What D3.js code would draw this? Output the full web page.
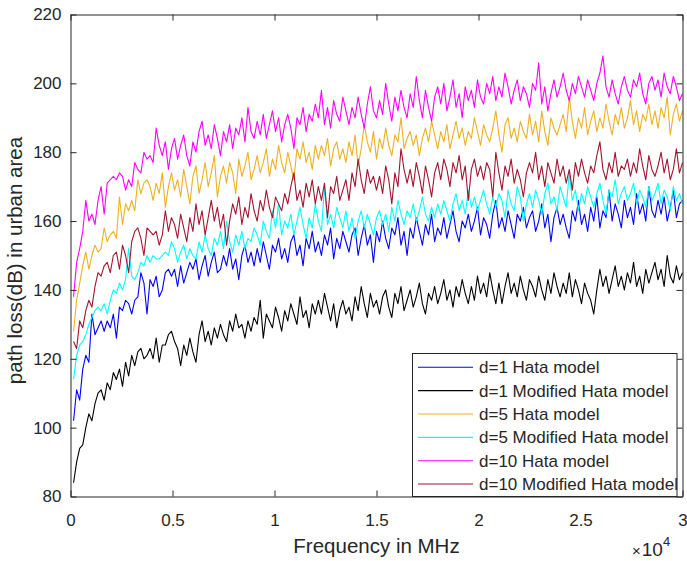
<!DOCTYPE html>
<html>
<head>
<meta charset="utf-8">
<script src="https://cdn.jsdelivr.net/npm/d3@7"></script>
<style>
  body { margin: 0; background: #fff; }
  text { font-family: "Liberation Sans", Arial, Helvetica, sans-serif; fill: #262626; }
</style>
</head>
<body>
<div id="chart"></div>
<script type="text/javascript">
// frequency grid: one sample every 150 MHz, from 150 to 30000
var freqStep = 150;

var blue = [102,111,108,117,121,119,133,127,129,131, 128,131,129,133,126,135,134,137,136,133,
  137,138,145,142,133,143,141,144,138,140, 145,146,144,146,141,147,142,145,148,146,
  149,143,147,150,144,148,151,145,146,150, 147,152,146,149,143,150,153,148,151,147,
  152,148,154,150,146,153,151,155,149,152, 148,154,156,150,153,147,155,152,157,151,
  154,150,156,153,158,149,155,152,157,154, 151,156,158,150,155,159,153,156,148,157,
  154,160,155,152,158,156,161,153,157,150, 158,155,161,157,153,159,156,162,154,158,
  156,161,155,159,163,157,154,160,158,162, 157,160,164,156,161,159,155,162,166,158,
  161,157,163,159,155,162,160,164,158,161, 163,157,160,165,158,162,154,161,164,159,
  162,158,155,163,160,166,159,162,157,164, 160,167,158,163,161,169,160,165,162,158,
  166,161,164,159,168,162,165,160,170,163, 161,166,162,167,160,164,169,161,165,166];

var black = [84,90,94,95,100,104,102,107,110,111, 108,113,111,116,114,117,112,119,115,121,
  118,122,123,120,121,123,120,126,119,124, 124,127,128,125,123,118,124,121,126,122,
  119,127,131,125,128,124,129,126,130,127, 125,131,128,133,129,130,126,131,128,132,
  130,137,126,133,131,129,135,132,128,134, 131,136,133,130,138,132,134,129,136,133,
  137,133,139,135,131,136,129,134,137,133, 135,131,138,134,141,136,132,139,135,137,
  133,138,140,135,132,139,136,141,134,137, 140,135,138,142,136,133,139,137,141,136,
  139,143,137,140,135,141,138,143,139,136, 141,137,144,139,142,138,145,140,136,142,
  136,141,145,139,142,138,144,140,137,143, 141,138,144,140,137,143,139,145,141,138,
  142,139,145,138,143,140,136,142,139,137, 133,140,146,141,144,139,143,147,141,144,
  140,145,142,148,141,144,139,146,142,145, 148,143,146,141,150,144,142,147,143,145];

var orange = [128,137,142,147,151,146,150,153,151,152, 158,154,156,157,155,167,159,165,163,166,
  163,172,168,171,172,170,166,171,168,174, 164,170,174,169,172,167,175,170,165,173,
  176,168,172,177,170,174,179,167,173,176, 171,177,174,168,178,173,176,180,172,175,
  179,174,177,181,173,178,175,182,177,174, 180,176,172,181,178,183,177,180,175,182,
  178,182,179,184,176,181,183,178,181,177, 183,179,185,176,181,188,183,180,186,178,
  184,181,187,182,179,185,183,190,181,184, 186,182,185,179,184,187,183,189,185,181,
  186,183,188,181,185,189,184,187,182,186, 184,190,186,182,188,185,183,187,192,185,
  180,188,190,184,187,183,189,186,184,191, 185,189,183,192,186,182,190,187,185,188,
  191,186,196,189,184,190,187,193,185,189, 192,186,190,187,194,189,185,191,188,193,
  187,190,195,188,192,186,191,189,194,188, 192,187,193,190,196,185,191,194,189,192];

var cyan = [114,121,124,125,127,130,132,134,135,134, 136,133,137,140,139,142,140,143,152,144,
  143,145,148,147,150,148,150,149,149,150, 151,150,154,152,148,151,153,149,152,150,
  149,154,151,156,152,150,155,153,157,152, 160,154,151,156,153,157,152,155,154,158,
  156,153,160,157,155,163,158,165,156,160, 158,162,156,160,164,159,155,161,158,165,
  160,157,170,159,162,158,164,161,158,163, 157,161,155,160,163,158,162,159,156,161,
  163,159,162,157,164,160,166,162,159,163, 161,165,160,163,167,162,160,164,161,165,
  162,166,163,160,165,168,163,166,162,169, 164,167,163,166,169,165,162,167,164,168,
  166,161,169,165,163,170,167,160,165,168, 164,169,166,162,168,171,165,167,163,170,
  167,164,174,166,169,163,168,165,170,167, 164,168,171,166,162,169,167,172,165,168,
  170,166,168,171,165,169,167,164,170,166, 168,171,165,169,167,163,170,166,168,165];

var magenta = [138,148,152,157,166,160,162,159,166,170, 162,171,172,173,172,174,173,169,172,170,
  177,175,174,180,178,179,177,187,182,179, 183,175,181,184,178,182,185,179,176,183,
  180,186,189,182,185,181,188,184,179,186, 183,188,181,187,185,190,183,193,186,184,
  189,185,191,184,188,192,186,190,183,188, 191,187,181,190,188,193,186,191,189,194,
  190,198,188,193,187,195,191,189,196,192, 188,193,190,196,191,187,194,199,192,190,
  195,191,200,194,189,196,192,198,193,190, 197,193,202,195,190,198,193,189,196,199,
  194,200,192,196,201,193,197,190,199,195, 198,193,201,196,194,200,197,202,195,199,
  196,203,199,194,198,201,195,199,197,193, 200,198,206,194,199,192,197,201,196,199,
  203,198,195,200,197,202,199,196,201,198, 195,200,203,208,199,196,201,197,194,199,
  202,198,196,201,199,203,197,194,200,202, 198,201,196,203,199,197,202,199,195,197];

var darkred = [125,123,131,129,134,137,135,141,145,144, 147,148,145,150,151,146,153,150,145,154,
  157,158,155,150,158,157,156,157,153,156, 163,157,161,159,155,162,158,154,161,157,
  165,159,163,156,161,166,160,164,158,162, 153,160,165,162,167,159,164,161,168,163,
  160,166,163,169,164,161,167,165,163,168, 165,170,174,166,169,164,171,167,172,165,
  170,166,171,161,170,168,173,166,169,172, 166,174,170,178,172,168,175,171,173,169,
  173,168,176,172,165,174,170,181,175,171, 175,170,177,173,168,176,172,167,174,177,
  172,178,175,170,177,174,179,172,176,166, 175,178,173,176,172,177,175,167,180,174,
  169,176,173,178,171,175,172,167,174,177, 174,180,172,176,170,177,174,171,178,173,
  176,171,175,169,177,173,178,174,171,176, 174,179,183,175,172,177,174,180,173,176,
  175,178,173,177,174,181,176,172,179,175, 173,176,180,174,178,172,175,181,174,177];

var labels = ["d=1 Hata model", "d=1 Modified Hata model", "d=5 Hata model",
              "d=5 Modified Hata model", "d=10 Hata model", "d=10 Modified Hata model"];
var colors = ["#0000ff", "#000000", "#edb120", "#00ffff", "#ff00ff", "#a2142f"];
var xTicks = [0, 5000, 10000, 15000, 20000, 25000, 30000];
var yTicks = [80, 100, 120, 140, 160, 180, 200, 220];

var series = [blue, black, orange, cyan, magenta, darkred].map(function(v, k){
  return { values: v, label: labels[k], color: colors[k] };
});

var W = 687, H = 561;
var plotL = 70.5, plotR = 682.5, plotT = 14.5, plotB = 496.5;
var axisColor = "#262626";

var svg = d3.select("#chart").append("svg").attr("width", W).attr("height", H);
svg.append("rect").attr("width", W).attr("height", H).attr("fill", "#fff");

var x = d3.scaleLinear().domain([0, 30000]).range([plotL, plotR]);
var y = d3.scaleLinear().domain([80, 220]).range([plotB, plotT]);

var line = d3.line()
  .x(function(d, i){ return x((i + 1) * freqStep); })
  .y(function(d){ return y(d); });

svg.append("g").selectAll("path")
  .data(series)
  .enter()
  .append("path")
  .attr("d", function(s){ return line(s.values); })
  .attr("fill", "none")
  .attr("stroke", function(s){ return s.color; })
  .attr("stroke-width", 1.1)
  .attr("stroke-linejoin", "round");

// axes box, ticks pointing inward
var fmtX = function(d){ return d / 10000; };
var gB = svg.append("g").attr("transform", "translate(0," + plotB + ")")
  .call(d3.axisBottom(x).tickValues(xTicks).tickFormat(fmtX).tickSizeInner(-6).tickSizeOuter(0).tickPadding(17));
var gT = svg.append("g").attr("transform", "translate(0," + plotT + ")")
  .call(d3.axisTop(x).tickValues(xTicks).tickFormat("").tickSizeInner(-6).tickSizeOuter(0));
var gL = svg.append("g").attr("transform", "translate(" + plotL + ",0)")
  .call(d3.axisLeft(y).tickValues(yTicks).tickSizeInner(-6).tickSizeOuter(0).tickPadding(9));
var gR = svg.append("g").attr("transform", "translate(" + plotR + ",0)")
  .call(d3.axisRight(y).tickValues(yTicks).tickFormat("").tickSizeInner(-6).tickSizeOuter(0));

[gB, gT, gL, gR].forEach(function(g){
  g.select(".domain").attr("stroke", axisColor);
  g.selectAll(".tick line").attr("stroke", axisColor);
  g.selectAll(".tick text").attr("fill", axisColor)
    .style("font-family", '"Liberation Sans", Arial, sans-serif').style("font-size", "17px");
});

// axis labels
svg.append("text")
  .attr("x", (plotL + plotR) / 2)
  .attr("y", 553)
  .attr("text-anchor", "middle")
  .style("font-size", "20.5px")
  .text("Frequency in MHz");

svg.append("text")
  .attr("transform", "translate(22," + ((plotT + plotB) / 2 + 5) + ") rotate(-90)")
  .attr("text-anchor", "middle")
  .style("font-size", "20.5px")
  .text("path loss(dB) in urban area");

var expo = svg.append("text").attr("x", 632).attr("y", 556);
expo.append("tspan").style("font-size", "15px").text("\u00d7");
expo.append("tspan").attr("dx", 1).style("font-size", "19px").text("10");
expo.append("tspan").attr("dy", -10).style("font-size", "13px").text("4");

// legend
var lg = svg.append("g");
lg.append("rect")
  .attr("x", 412.5).attr("y", 353.5)
  .attr("width", 264.5).attr("height", 143)
  .attr("fill", "#fff")
  .attr("stroke", axisColor)
  .attr("stroke-width", 1);

var rows = lg.selectAll(".row")
  .data(series)
  .enter()
  .append("g")
  .attr("transform", function(d, k){ return "translate(0," + (367.3 + k * 23.35) + ")"; });

rows.append("line")
  .attr("x1", 418).attr("x2", 473)
  .attr("stroke", function(d){ return d.color; })
  .attr("stroke-width", 1.1);

rows.append("text")
  .attr("x", 479)
  .attr("y", 6)
  .style("font-size", "17px")
  .text(function(d){ return d.label; });
</script>
</body>
</html>
